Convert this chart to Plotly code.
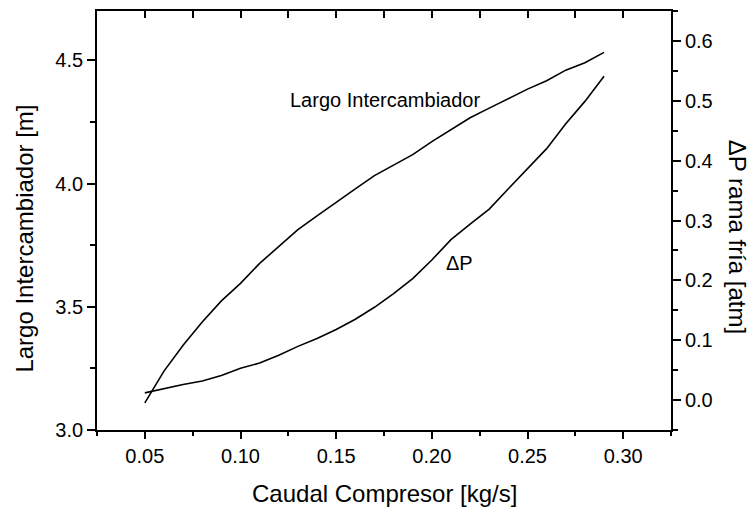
import plotly.graph_objects as go

# Data
caudal = [0.05, 0.06, 0.07, 0.08, 0.09, 0.10, 0.11, 0.12, 0.13, 0.14, 0.15, 0.16, 0.17,
          0.18, 0.19, 0.20, 0.21, 0.22, 0.23, 0.24, 0.25, 0.26, 0.27, 0.28, 0.29]
largo = [3.11, 3.239, 3.344, 3.438, 3.524, 3.595, 3.676, 3.744, 3.813, 3.869, 3.922, 3.978, 4.032,
         4.076, 4.117, 4.170, 4.217, 4.267, 4.306, 4.346, 4.383, 4.417, 4.460, 4.490, 4.532]
delta_p = [0.012, 0.0195, 0.026, 0.032, 0.041, 0.053, 0.062, 0.075, 0.0897, 0.103, 0.118, 0.135, 0.155,
           0.178, 0.203, 0.234, 0.268, 0.294, 0.319, 0.353, 0.386, 0.420, 0.4615, 0.499, 0.541]

x_title = "Caudal Compresor [kg/s]"
y_title = "Largo Intercambiador [m]"
y2_title = "ΔP rama fría [atm]"
label_largo = "Largo Intercambiador"
label_dp = "ΔP"

FONT = "Liberation Sans, Arial, sans-serif"
BLACK = "#000000"

fig = go.Figure()
fig.add_trace(go.Scatter(x=caudal, y=largo, mode="lines", line=dict(color=BLACK, width=1.6),
                         showlegend=False, hoverinfo="skip"))
fig.add_trace(go.Scatter(x=caudal, y=delta_p, mode="lines", line=dict(color=BLACK, width=1.6),
                         yaxis="y2", showlegend=False, hoverinfo="skip"))
# invisible trace to activate the top mirror axis
fig.add_trace(go.Scatter(x=caudal, y=largo, mode="lines", line=dict(color="rgba(0,0,0,0)", width=0),
                         xaxis="x2", showlegend=False, hoverinfo="skip"))

tickfont = dict(family=FONT, size=20, color=BLACK)

fig.update_layout(
    width=750, height=509,
    margin=dict(l=97, r=79, t=11, b=79),
    paper_bgcolor="white", plot_bgcolor="white",
    font=dict(family=FONT, color=BLACK),
    xaxis=dict(range=[0.025, 0.325], tickmode="linear", tick0=0.05, dtick=0.05,
               tickformat=".2f", ticks="outside", ticklen=7, tickwidth=1.5, tickcolor=BLACK,
               minor=dict(tickmode="linear", tick0=0.025, dtick=0.025, ticks="outside",
                          ticklen=4, tickwidth=1.5, tickcolor=BLACK),
               showline=True, linecolor=BLACK, linewidth=1.8, showgrid=False, zeroline=False,
               tickfont=tickfont),
    xaxis2=dict(range=[0.025, 0.325], overlaying="x", side="top", tickmode="linear",
                tick0=0.05, dtick=0.05, ticks="inside", ticklen=7, tickwidth=1.5, tickcolor=BLACK,
                minor=dict(tickmode="linear", tick0=0.025, dtick=0.025, ticks="inside",
                           ticklen=7, tickwidth=1.5, tickcolor=BLACK),
                showticklabels=False, showline=True, linecolor=BLACK, linewidth=1.8,
                showgrid=False, zeroline=False),
    yaxis=dict(range=[3.0, 4.7], tickmode="linear", tick0=3.0, dtick=0.5, tickformat=".1f",
               ticks="outside", ticklen=8, tickwidth=1.5, tickcolor=BLACK,
               minor=dict(tickmode="linear", tick0=3.0, dtick=0.25, ticks="outside",
                          ticklen=5, tickwidth=1.5, tickcolor=BLACK),
               showline=True, linecolor=BLACK, linewidth=1.8, showgrid=False, zeroline=False,
               tickfont=tickfont),
    yaxis2=dict(range=[-0.05, 0.65], overlaying="y", side="right", tickmode="linear",
                tick0=0.0, dtick=0.1, tickformat=".1f", ticks="outside", ticklen=8,
                tickwidth=1.5, tickcolor=BLACK,
                minor=dict(tickmode="linear", tick0=0.0, dtick=0.05, ticks="outside",
                           ticklen=5, tickwidth=1.5, tickcolor=BLACK),
                showline=True, linecolor=BLACK, linewidth=1.8, showgrid=False, zeroline=False,
                tickfont=tickfont),
)

annots = [
    dict(text=x_title, xref="paper", yref="paper", x=0.5, y=-0.152, xanchor="center",
         yanchor="middle", showarrow=False, font=dict(family=FONT, size=24, color=BLACK)),
    dict(text=y_title, xref="paper", yref="paper", x=-0.127, y=0.457, xanchor="center",
         yanchor="middle", textangle=-90, showarrow=False,
         font=dict(family=FONT, size=24, color=BLACK)),
    dict(text=y2_title, xref="paper", yref="paper", x=1.116, y=0.462, xanchor="center",
         yanchor="middle", textangle=90, showarrow=False,
         font=dict(family=FONT, size=24, color=BLACK)),
    dict(text=label_largo, xref="x", yref="y", x=0.1755, y=4.339, xanchor="center",
         yanchor="middle", showarrow=False, font=dict(family=FONT, size=20, color=BLACK)),
    dict(text=label_dp, xref="x", yref="y", x=0.2147, y=3.678, xanchor="center",
         yanchor="middle", showarrow=False, font=dict(family=FONT, size=20, color=BLACK)),
]
fig.update_layout(annotations=annots)

fig.write_html("out.html")
